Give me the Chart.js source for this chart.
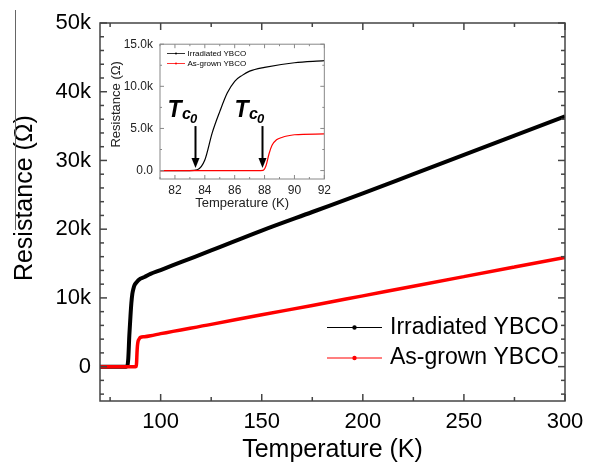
<!DOCTYPE html>
<html><head><meta charset="utf-8">
<script src="https://cdn.jsdelivr.net/npm/chart.js@4.4.1/dist/chart.umd.min.js"></script>
<style>
html,body{margin:0;padding:0;background:#fff;}
#wrap{position:relative;width:598px;height:465px;overflow:hidden;}
#main{position:absolute;left:0;top:0;}
#inset{position:absolute;left:105px;top:30px;}
</style></head><body>
<div id="wrap"><canvas id="main" width="598" height="465"></canvas><canvas id="inset" width="230" height="190"></canvas></div>
<script>
// ---- data ----
const irradiatedT = [70, 80, 83, 83.5, 84, 84.5, 85, 85.5, 86, 86.5, 87, 88, 90, 92, 95, 100, 110, 125, 150, 175, 200, 225, 250, 275, 300];
const irradiatedR = [0, 0, 0, 100, 1250, 4500, 7000, 9200, 10600, 11300, 11800, 12250, 12800, 13050, 13500, 14050, 15200, 16900, 19800, 22500, 25200, 28000, 30800, 33600, 36400];
const asGrownT = [70, 80, 87.5, 87.9, 88.1, 88.3, 88.5, 88.8, 89.2, 89.5, 90, 92, 95, 100, 125, 150, 175, 200, 225, 250, 275, 300];
const asGrownR = [0, 0, 0, 30, 600, 2000, 3000, 3650, 3950, 4100, 4250, 4350, 4500, 4800, 6150, 7550, 8900, 10300, 11700, 13100, 14500, 15900];
const seriesNames = ['Irradiated YBCO', 'As-grown YBCO'];
const mainXTicks = [100, 150, 200, 250, 300];
const mainXMinor = [75, 125, 175, 225, 275];
const mainYTicks = [0, 10000, 20000, 30000, 40000, 50000];
const mainYLabels = ['0', '10k', '20k', '30k', '40k', '50k'];
const insetXTicks = [82, 84, 86, 88, 90, 92];
const insetXMinor = [81, 83, 85, 87, 89, 91];
const insetYTicks = [0, 5000, 10000, 15000];
const insetYLabels = ['0.0', '5.0k', '10.0k', '15.0k'];
const insetYMinor = [2500, 7500, 12500];
const tcValues = [83.35, 87.8];

const FONT = "'Liberation Sans', Arial, sans-serif";
const mainYMinor = [];
for (let v = -4000; v <= 48000; v += 2000) if (v % 10000 !== 0) mainYMinor.push(v);

const toPts = (T, R) => T.map((t, i) => ({x: t, y: R[i]}));

const framePlugin = {
  id: 'frame',
  afterDatasetsDraw(chart, args, o) {
    const {ctx, chartArea: a, scales: {x, y}} = chart;
    ctx.save();
    ctx.strokeStyle = o.color; ctx.lineWidth = o.width;
    ctx.strokeRect(a.left, a.top, a.right - a.left, a.bottom - a.top);
    const seg = (x1, y1, x2, y2) => { ctx.beginPath(); ctx.moveTo(x1, y1); ctx.lineTo(x2, y2); ctx.stroke(); };
    [[o.xMajor, o.major], [o.xMinor, o.minor]].forEach(([vals, len]) => vals.forEach(v => {
      const p = x.getPixelForValue(v);
      if (p < a.left - 0.5 || p > a.right + 0.5) return;
      seg(p, a.bottom, p, a.bottom - len); seg(p, a.top, p, a.top + len);
    }));
    [[o.yMajor, o.major], [o.yMinor, o.minor]].forEach(([vals, len]) => vals.forEach(v => {
      const p = y.getPixelForValue(v);
      if (p < a.top - 0.5 || p > a.bottom + 0.5) return;
      seg(a.left, p, a.left + len, p); seg(a.right, p, a.right - len, p);
    }));
    ctx.restore();
  }
};

const legendPlugin = {
  id: 'boxLegend',
  afterDraw(chart, args, o) {
    const ctx = chart.ctx;
    ctx.save();
    chart.data.datasets.forEach((ds, i) => {
      const yy = o.y0 + i * o.dy;
      ctx.strokeStyle = ds.borderColor; ctx.lineWidth = o.lineWidth;
      ctx.beginPath(); ctx.moveTo(o.x1, yy); ctx.lineTo(o.x2, yy); ctx.stroke();
      ctx.fillStyle = ds.borderColor;
      ctx.beginPath(); ctx.arc((o.x1 + o.x2) / 2, yy, o.dot, 0, Math.PI * 2); ctx.fill();
      ctx.fillStyle = '#000'; ctx.font = o.font; ctx.textBaseline = 'middle'; ctx.textAlign = 'left';
      ctx.fillText(ds.label, o.textX, yy);
    });
    if (o.artifact) {
      ctx.strokeStyle = '#666'; ctx.lineWidth = 1;
      ctx.beginPath(); ctx.moveTo(15.5, 10); ctx.lineTo(15.5, 230); ctx.stroke();
    }
    ctx.restore();
  }
};

const tcPlugin = {
  id: 'tcArrows',
  afterDraw(chart, args, o) {
    if (!o.values) return;
    const {ctx, scales: {x, y}} = chart;
    ctx.save();
    o.values.forEach(v => {
      const ax = Math.round(x.getPixelForValue(v)) + 0.5;
      const tip = y.getPixelForValue(0) - 2.5;
      const top = tip - 42;
      ctx.strokeStyle = '#000'; ctx.fillStyle = '#000'; ctx.lineWidth = 2;
      ctx.beginPath(); ctx.moveTo(ax, top); ctx.lineTo(ax, tip - 8); ctx.stroke();
      ctx.beginPath(); ctx.moveTo(ax - 4, tip - 10); ctx.lineTo(ax + 4, tip - 10); ctx.lineTo(ax, tip); ctx.closePath(); ctx.fill();
      ctx.textBaseline = 'alphabetic'; ctx.textAlign = 'left';
      ctx.font = "italic bold 23px " + FONT;
      ctx.fillText('T', ax - 28, top - 9);
      ctx.font = "italic bold 16px " + FONT;
      ctx.fillText('c', ax - 13.5, top - 7);
      ctx.font = "italic bold 13px " + FONT;
      ctx.fillText('0', ax - 5.5, top - 3);
    });
    ctx.restore();
  }
};

const datasets = (w, pr) => [
  {label: seriesNames[0], data: toPts(irradiatedT, irradiatedR), borderColor: '#000000', backgroundColor: '#000000', borderWidth: w[0], pointRadius: pr, pointHoverRadius: 0, showLine: true, cubicInterpolationMode: 'monotone', order: 2},
  {label: seriesNames[1], data: toPts(asGrownT, asGrownR), borderColor: '#ff0000', backgroundColor: '#ff0000', borderWidth: w[1], pointRadius: pr, pointHoverRadius: 0, showLine: true, cubicInterpolationMode: 'monotone', order: 1}
];

new Chart(document.getElementById('main'), {
  type: 'scatter',
  data: {datasets: datasets([4, 3.5], 0)},
  plugins: [framePlugin, legendPlugin],
  options: {
    responsive: false, animation: false, devicePixelRatio: 1,
    layout: {padding: {left: 0, top: 23, right: 33, bottom: 0}},
    plugins: {
      legend: {display: false}, tooltip: {enabled: false},
      frame: {color: '#444', width: 1.5, major: 7, minor: 4, xMajor: mainXTicks, xMinor: mainXMinor, yMajor: mainYTicks, yMinor: mainYMinor},
      boxLegend: {x1: 327, x2: 382, y0: 327.5, dy: 30.5, dot: 2.2, lineWidth: 1.2, textX: 390, font: "23px " + FONT, artifact: true}
    },
    scales: {
      x: {
        type: 'linear', min: 70, max: 300,
        afterBuildTicks: s => { s.ticks = mainXTicks.map(v => ({value: v})); },
        afterFit: s => { s.height = 64; },
        grid: {display: false, drawTicks: false}, border: {display: false},
        ticks: {color: '#000', font: {family: FONT, size: 22}, padding: 8, maxRotation: 0, autoSkip: false},
        title: {display: true, text: 'Temperature (K)', color: '#000', font: {family: FONT, size: 25}, padding: {top: 0, bottom: 0}}
      },
      y: {
        type: 'linear', min: -5000, max: 50000,
        afterBuildTicks: s => { s.ticks = mainYTicks.map(v => ({value: v})); },
        afterFit: s => { s.width = 100; },
        grid: {display: false, drawTicks: false}, border: {display: false},
        ticks: {color: '#000', font: {family: FONT, size: 22}, padding: 9, autoSkip: false,
          callback: v => mainYLabels[mainYTicks.indexOf(v)]},
        title: {display: true, text: '    Resistance (Ω)', color: '#000', font: {family: FONT, size: 25}, padding: {top: 10, bottom: 0}}
      }
    }
  }
});

new Chart(document.getElementById('inset'), {
  type: 'scatter',
  data: {datasets: datasets([1.2, 1.2], 0)},
  plugins: [framePlugin, legendPlugin, tcPlugin],
  options: {
    responsive: false, animation: false, devicePixelRatio: 1,
    layout: {padding: {left: 0, top: 13, right: 7, bottom: 0}},
    plugins: {
      legend: {display: false}, tooltip: {enabled: false},
      frame: {color: '#888', width: 1, major: 4, minor: 2, xMajor: insetXTicks, xMinor: insetXMinor, yMajor: insetYTicks, yMinor: insetYMinor},
      boxLegend: {x1: 62, x2: 80, y0: 23.5, dy: 10, dot: 1, lineWidth: 0.8, textX: 82.5, font: "8px " + FONT, artifact: false},
      tcArrows: {values: tcValues}
    },
    scales: {
      x: {
        type: 'linear', min: 81, max: 92,
        afterBuildTicks: s => { s.ticks = insetXTicks.map(v => ({value: v})); },
        afterFit: s => { s.height = 41; },
        grid: {display: false, drawTicks: false}, border: {display: false},
        ticks: {color: '#222', font: {family: FONT, size: 12}, padding: 4, maxRotation: 0, autoSkip: false},
        title: {display: true, text: 'Temperature (K)', color: '#222', font: {family: FONT, size: 13}, padding: {top: 0, bottom: 9}}
      },
      y: {
        type: 'linear', min: -1000, max: 15000,
        afterBuildTicks: s => { s.ticks = insetYTicks.map(v => ({value: v})); },
        afterFit: s => { s.width = 55; },
        grid: {display: false, drawTicks: false}, border: {display: false},
        ticks: {color: '#222', font: {family: FONT, size: 12}, padding: 7, autoSkip: false,
          callback: v => insetYLabels[insetYTicks.indexOf(v)]},
        title: {display: true, text: '    Resistance (Ω)', color: '#222', font: {family: FONT, size: 13}, padding: {top: 4, bottom: 0}}
      }
    }
  }
});
</script>
</body></html>
